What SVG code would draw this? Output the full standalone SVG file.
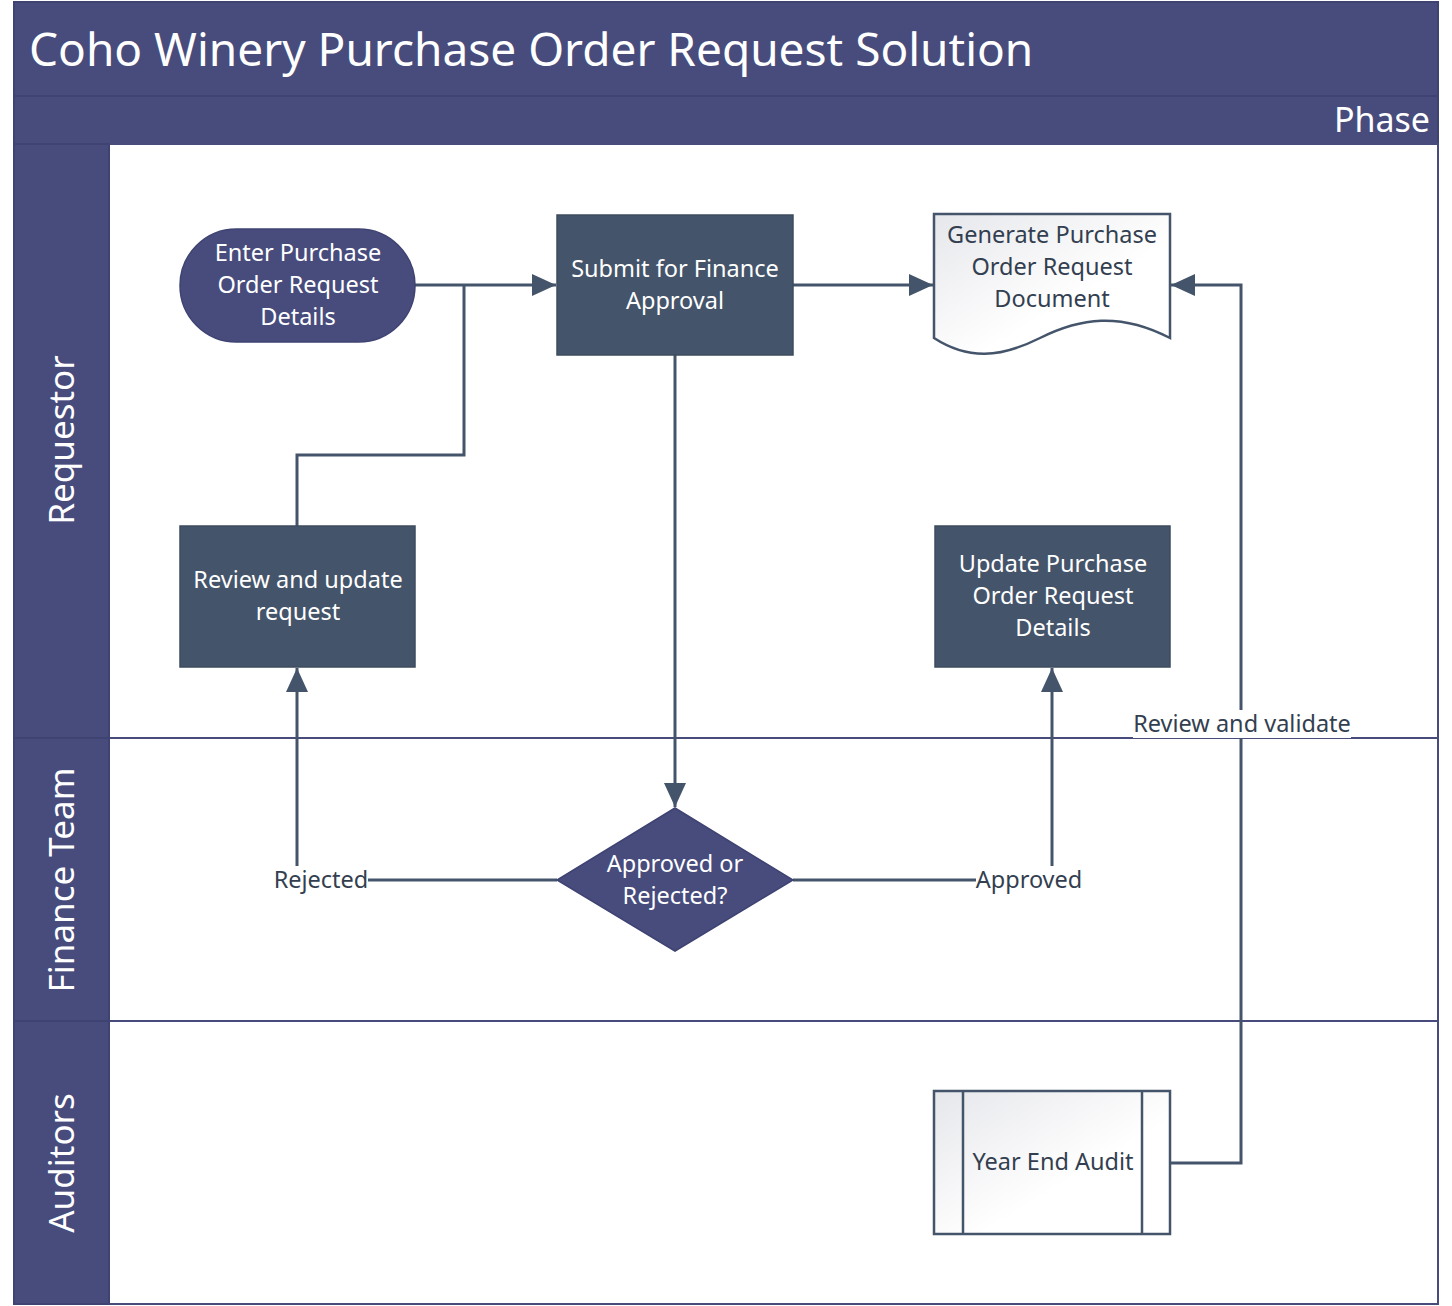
<svg xmlns="http://www.w3.org/2000/svg" width="1452" height="1306" viewBox="0 0 1452 1306">
<style>
.hdr{fill:#474C7D;stroke:#3E4372;stroke-width:2}
.lane{fill:#fff;stroke:#474C7D;stroke-width:2}
.proc{fill:#44546A;stroke:#3E4B5E;stroke-width:1.5}
.purple{fill:#474C7D;stroke:#3E4372;stroke-width:1.5}
.light{fill:url(#g);stroke:#44546A;stroke-width:2.5}
.wt{font-family:"Noto Sans","Open Sans",sans-serif;font-size:23.5px;fill:#fff;text-anchor:middle}
.dt{font-family:"Noto Sans","Open Sans",sans-serif;font-size:23.5px;fill:#333F50;text-anchor:middle}
.conn{fill:none;stroke:#44546A;stroke-width:3}
.lbl{font-family:"Noto Sans","Open Sans",sans-serif;font-size:23.5px;fill:#333F50;text-anchor:middle}
.lanet{font-family:"Noto Sans","Open Sans",sans-serif;font-size:35px;fill:#fff;text-anchor:middle}
</style>
<defs>
<linearGradient id="g" x1="0" y1="0" x2="1" y2="1">
<stop offset="0" stop-color="#E6E7EB"/>
<stop offset="0.6" stop-color="#FFFFFF"/>
</linearGradient>
<marker id="a" viewBox="0 0 24 24" refX="24" refY="12" markerWidth="24" markerHeight="24" markerUnits="userSpaceOnUse" orient="auto">
<path d="M0,1 L24,12 L0,23 Z" fill="#44546A"/>
</marker>
</defs>
<rect x="0" y="0" width="1452" height="1306" fill="#fff"/>
<g id="pool">
<rect class="hdr" x="14" y="2" width="1424" height="94"/>
<text x="29" y="66" font-family="Noto Sans,Open Sans,sans-serif" font-size="46" fill="#fff">Coho Winery Purchase Order Request Solution</text>
<rect class="hdr" x="14" y="96" width="1424" height="48"/>
<text x="1430" y="132" font-family="Noto Sans,Open Sans,sans-serif" font-size="34" fill="#fff" text-anchor="end">Phase</text>
</g>
<g id="lane-requestor">
<rect class="lane" x="109" y="144" width="1329" height="594"/>
<rect class="hdr" x="14" y="144" width="95" height="594"/>
<text class="lanet" transform="translate(74,440) rotate(-90)">Requestor</text>
</g>
<g id="lane-finance">
<rect class="lane" x="109" y="738" width="1329" height="283"/>
<rect class="hdr" x="14" y="738" width="95" height="283"/>
<text class="lanet" transform="translate(74,880) rotate(-90)">Finance Team</text>
</g>
<g id="lane-auditors">
<rect class="lane" x="109" y="1021" width="1329" height="283"/>
<rect class="hdr" x="14" y="1021" width="95" height="283"/>
<text class="lanet" transform="translate(74,1163) rotate(-90)">Auditors</text>
</g>
<g id="connectors">
<path class="conn" d="M415,285 H556" marker-end="url(#a)"/>
<path class="conn" d="M297,526 V455 H464 V285"/>
<path class="conn" d="M793,285 H933" marker-end="url(#a)"/>
<path class="conn" d="M675,355 V807" marker-end="url(#a)"/>
<path class="conn" d="M557,880 H297 V668" marker-end="url(#a)"/>
<path class="conn" d="M793,880 H1052 V668" marker-end="url(#a)"/>
<path class="conn" d="M1170,1163 H1241 V285 H1171" marker-end="url(#a)"/>
<rect x="272" y="866" width="96" height="28" fill="#fff"/>
<text class="lbl" x="321" y="888">Rejected</text>
<rect x="976" y="866" width="106" height="28" fill="#fff"/>
<text class="lbl" x="1029" y="888">Approved</text>
<rect x="1133" y="710" width="218" height="28" fill="#fff"/>
<text class="lbl" x="1242" y="732">Review and validate</text>
</g>
<g id="enter">
<rect class="purple" x="180" y="229" width="235" height="113" rx="56.5"/>
<text class="wt" x="298" y="261">Enter Purchase</text>
<text class="wt" x="298" y="293">Order Request</text>
<text class="wt" x="298" y="325">Details</text>
</g>
<g id="submit">
<rect class="proc" x="557" y="215" width="236" height="140"/>
<text class="wt" x="675" y="277">Submit for Finance</text>
<text class="wt" x="675" y="309">Approval</text>
</g>
<g id="generate">
<path class="light" d="M934,214 H1170 V338 C1120,312 1080,318 1040,338 C1000,358 968,360 934,338 Z"/>
<text class="dt" x="1052" y="243">Generate Purchase</text>
<text class="dt" x="1052" y="275">Order Request</text>
<text class="dt" x="1052" y="307">Document</text>
</g>
<g id="review">
<rect class="proc" x="180" y="526" width="235" height="141"/>
<text class="wt" x="298" y="588">Review and update</text>
<text class="wt" x="298" y="620">request</text>
</g>
<g id="update">
<rect class="proc" x="935" y="526" width="235" height="141"/>
<text class="wt" x="1053" y="572">Update Purchase</text>
<text class="wt" x="1053" y="604">Order Request</text>
<text class="wt" x="1053" y="636">Details</text>
</g>
<g id="decision">
<path class="purple" d="M675,808 L793,880 L675,951 L557,880 Z"/>
<text class="wt" x="675" y="872">Approved or</text>
<text class="wt" x="675" y="904">Rejected?</text>
</g>
<g id="audit">
<rect class="light" x="934" y="1091" width="236" height="143"/>
<line x1="963" y1="1091" x2="963" y2="1234" stroke="#44546A" stroke-width="2.5"/>
<line x1="1142" y1="1091" x2="1142" y2="1234" stroke="#44546A" stroke-width="2.5"/>
<text class="dt" x="1053" y="1170">Year End Audit</text>
</g>
</svg>
